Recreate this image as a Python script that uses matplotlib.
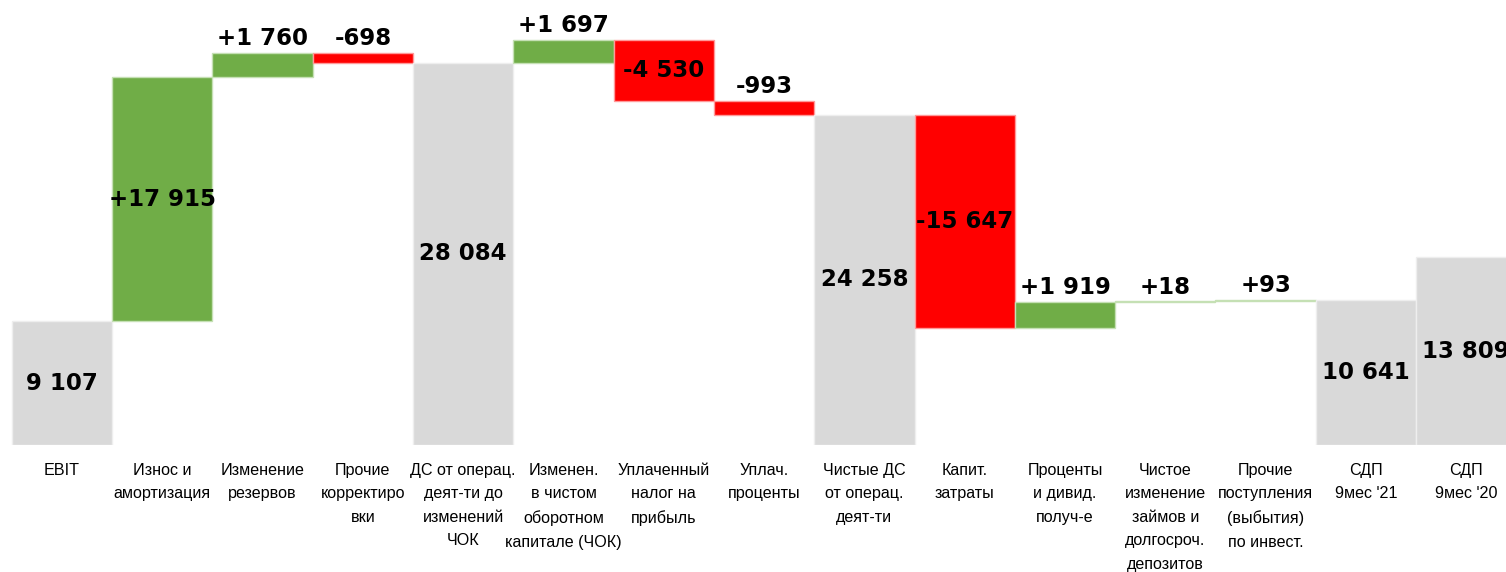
import matplotlib.pyplot as plt

# Категории (подписи оси X)
categories = [
    "EBIT",
    "Износ и\nамортизация",
    "Изменение\nрезервов",
    "Прочие\nкорректиро\nвки",
    "ДС от операц.\nдеят-ти до\nизменений\nЧОК",
    "Изменен.\nв чистом\nоборотном\nкапитале (ЧОК)",
    "Уплаченный\nналог на\nприбыль",
    "Уплач.\nпроценты",
    "Чистые ДС\nот операц.\nдеят-ти",
    "Капит.\nзатраты",
    "Проценты\nи дивид.\nполуч-е",
    "Чистое\nизменение\nзаймов и\nдолгосроч.\nдепозитов",
    "Прочие\nпоступления\n(выбытия)\nпо инвест.",
    "СДП\n9мес '21",
    "СДП\n9мес '20",
]

# Значения: итоговые столбцы и изменения
values = [9107, 17915, 1760, -698, 28084, 1697, -4530, -993, 24258,
          -15647, 1919, 18, 93, 10641, 13809]
# 't' - итог (от нуля), 'd' - изменение
kinds = ['t', 'd', 'd', 'd', 't', 'd', 'd', 'd', 't',
         'd', 'd', 'd', 'd', 't', 't']
# где писать подпись: внутри ('in') или над столбцом ('up')
label_pos = ['in', 'in', 'up', 'up', 'in', 'up', 'in', 'up', 'in',
             'in', 'up', 'up', 'up', 'in', 'in']

GREEN = '#70AD47'
RED = '#FF0000'
GRAY = '#D9D9D9'


def fmt(v, signed):
    s = f"{abs(v):,}".replace(",", " ")
    if signed:
        return ("+" if v >= 0 else "-") + s
    return s


fig = plt.figure(figsize=(15.06, 5.72), dpi=100)
ax = fig.add_axes([0, 0.222, 1, 0.778])

running = 0
for i, (v, k) in enumerate(zip(values, kinds)):
    if k == 't':
        bottom, height = 0, v
        face, edge = GRAY, '#EEEEEE'
        running = v
        top = v
        text = fmt(v, False)
    else:
        if v >= 0:
            bottom, height = running, v
            face, edge = GREEN, '#C5E0B4'
        else:
            bottom, height = running + v, -v
            face, edge = RED, '#FF9999'
        top = max(running, running + v)
        running += v
        text = fmt(v, True)
    ax.bar(i, height, bottom=bottom, width=1.0, color=face,
           edgecolor=edge, linewidth=1.0)
    if label_pos[i] == 'in':
        ax.text(i, bottom + height / 2, text, ha='center', va='center',
                fontsize=16.5, fontweight='bold', color='black')
    else:
        ax.annotate(text, (i, top), xytext=(0, 2), textcoords='offset points',
                    ha='center', va='bottom', fontsize=16.5,
                    fontweight='bold', color='black')

ax.set_xlim(-0.618, 14.397)
ax.set_ylim(0, 32690)
ax.set_yticks([])
ax.set_xticks(range(len(categories)))
ax.set_xticklabels(categories, fontsize=11.6, family='Liberation Sans',
                   linespacing=1.7, va='top')
ax.tick_params(axis='x', length=0, pad=13)
for s in ax.spines.values():
    s.set_visible(False)

fig.savefig('out.png', dpi=100)
